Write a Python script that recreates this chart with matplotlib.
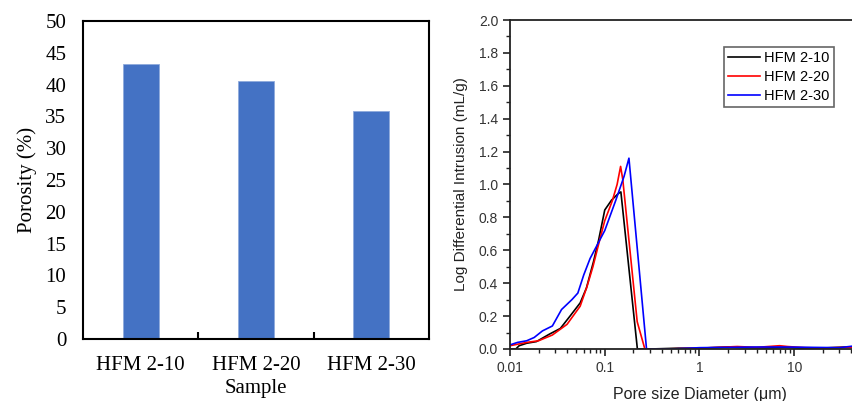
import numpy as np
import matplotlib
matplotlib.use("Agg")
from matplotlib import pyplot as plt
from matplotlib.ticker import MultipleLocator, FixedLocator, NullFormatter, FormatStrFormatter

# left panel: porosity per sample
samples = ['HFM 2-10', 'HFM 2-20', 'HFM 2-30']
porosity = [43.3, 40.5, 35.9]

# right panel: log differential intrusion vs pore diameter (um)
d_10 = [0.01, 0.0115, 0.0125, 0.015, 0.019, 0.026, 0.034, 0.043, 0.055, 0.064, 0.076,
        0.086, 0.1, 0.118, 0.139, 0.148, 0.221, 0.3, 0.6, 1.0, 2.0, 3.0, 5.0, 8.0, 12.0, 20.0, 35.0, 60.0]
v_10 = [0.0, 0.0, 0.02, 0.035, 0.045, 0.09, 0.125, 0.2, 0.28, 0.37, 0.53,
        0.66, 0.845, 0.905, 0.945, 0.955, 0.0, 0.0, 0.005, 0.005, 0.012, 0.008, 0.006, 0.01, 0.005, 0.006, 0.012, 0.01]

d_20 = [0.01, 0.015, 0.02, 0.028, 0.04, 0.055, 0.065, 0.075, 0.09, 0.1, 0.12, 0.135, 0.147,
        0.155, 0.22, 0.265, 0.4, 1.0, 2.5, 4.0, 7.0, 8.5, 13.0, 20.0, 35.0, 60.0]
v_20 = [0.02, 0.04, 0.05, 0.085, 0.15, 0.26, 0.38, 0.5, 0.68, 0.78, 0.9, 1.0, 1.11,
        1.03, 0.166, 0.0, 0.0, 0.005, 0.015, 0.01, 0.02, 0.015, 0.008, 0.006, 0.01, 0.015]

d_30 = [0.01, 0.012, 0.015, 0.018, 0.022, 0.028, 0.035, 0.045, 0.052, 0.06, 0.07, 0.1,
        0.13, 0.16, 0.18, 0.276, 0.5, 1.0, 2.0, 4.0, 8.0, 15.0, 30.0, 45.0, 70.0]
v_30 = [0.025, 0.04, 0.05, 0.07, 0.11, 0.14, 0.24, 0.3, 0.34, 0.45, 0.55, 0.72,
        0.9, 1.05, 1.16, 0.0, 0.0, 0.008, 0.01, 0.012, 0.012, 0.01, 0.008, 0.02, 0.02]

fig = plt.figure(figsize=(8.53, 4.01), dpi=100)

# ---- left: bar chart ----
ax1 = fig.add_axes([83/853, 62/401, 346/853, 318/401])
x = np.arange(len(samples))
ax1.bar(x, porosity, width=0.31, color='#4472C4', edgecolor='#8FAADC', linewidth=0.6, zorder=2)
ax1.set_xlim(-0.5, 2.5)
ax1.set_ylim(0, 50)
ax1.yaxis.set_major_locator(MultipleLocator(5))
ax1.set_xticks(x)
ax1.set_xticklabels(samples)
ax1.tick_params(axis='both', which='major', length=0, labelsize=15, pad=12)
ax1.tick_params(axis='y', pad=12)
ax1.xaxis.set_minor_locator(FixedLocator([0.5, 1.5]))
ax1.tick_params(axis='x', which='minor', direction='in', length=5, width=1.5)
for s in ax1.spines.values():
    s.set_linewidth(1.5)
ax1.set_xlabel('Sample', fontsize=15, labelpad=3)
ax1.set_ylabel('Porosity (%)', fontsize=15, labelpad=6)
for t in ax1.get_xticklabels() + ax1.get_yticklabels() + [ax1.xaxis.label, ax1.yaxis.label]:
    t.set_family('Liberation Serif')

# ---- right: pore size distribution ----
ax2 = fig.add_axes([510/853, 52/401, 379/853, 329/401])
ax2.plot(d_10, v_10, color='black', lw=1.2, label='HFM 2-10')
ax2.plot(d_20, v_20, color='red', lw=1.2, label='HFM 2-20')
ax2.plot(d_30, v_30, color='blue', lw=1.2, label='HFM 2-30')
ax2.set_xscale('log')
ax2.set_xlim(0.01, 100)
ax2.set_ylim(0, 2.0)
ax2.set_xticks([0.01, 0.1, 1, 10])
ax2.set_xticklabels(['0.01', '0.1', '1', '10'])
ax2.xaxis.set_minor_formatter(NullFormatter())
ax2.yaxis.set_major_locator(MultipleLocator(0.2))
ax2.yaxis.set_minor_locator(MultipleLocator(0.1))
ax2.yaxis.set_major_formatter(FormatStrFormatter('%.1f'))
ax2.spines['right'].set_visible(False)
for s in ax2.spines.values():
    s.set_linewidth(1.3)
    s.set_color('#222222')
ax2.tick_params(axis='both', which='major', length=5, width=1.2, labelsize=10, colors='#222222', labelcolor='#333333')
ax2.tick_params(axis='both', which='minor', length=3, width=1.0, colors='#222222')
ax2.tick_params(axis='x', pad=4)
ax2.set_xlabel('Pore size Diameter (\u03bcm)', fontsize=11.5, color='#222222', labelpad=8)
ax2.set_ylabel('Log Differential Intrusion (mL/g)', fontsize=11, color='#222222', labelpad=8)
for t in ax2.get_xticklabels() + ax2.get_yticklabels() + [ax2.xaxis.label, ax2.yaxis.label]:
    t.set_family('Liberation Sans')
leg = ax2.legend(loc='upper left', bbox_to_anchor=(724/853, 1 - 47/401), bbox_transform=fig.transFigure,
                 fancybox=False, edgecolor='#666666', framealpha=1, handlelength=2.2,
                 handletextpad=0.25, borderpad=0.3, labelspacing=0.32, borderaxespad=0,
                 prop={'family': 'Liberation Sans', 'size': 10.5})
leg.get_frame().set_linewidth(1.2)

fig.savefig('out.png', dpi=100)
